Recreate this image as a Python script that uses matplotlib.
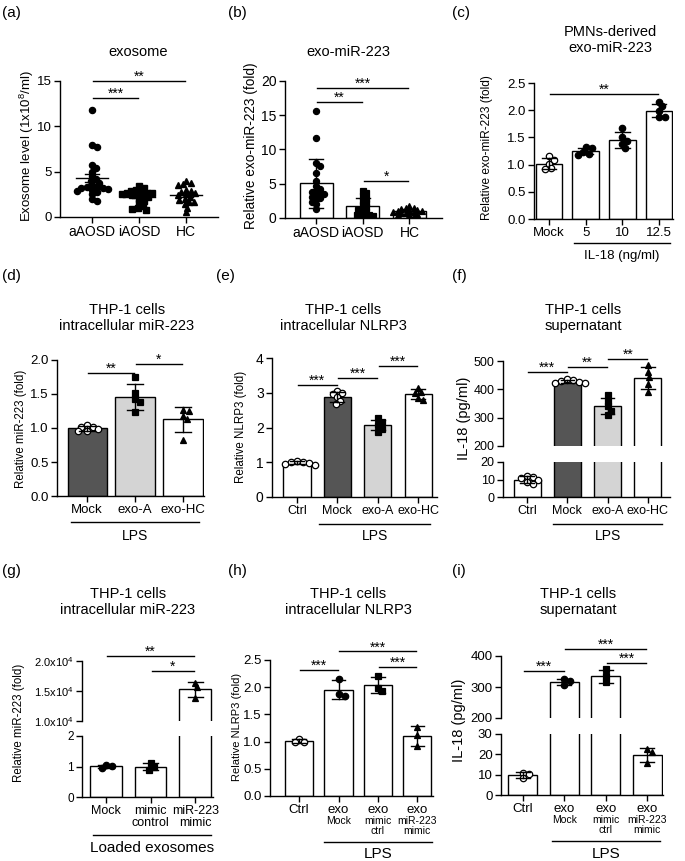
import numpy as np
import matplotlib
matplotlib.use('Agg')
import matplotlib.pyplot as plt
from matplotlib import transforms

plt.rcParams['font.family'] = ['Liberation Sans', 'DejaVu Sans']
plt.rcParams['mathtext.fontset'] = 'custom'
plt.rcParams['mathtext.rm'] = 'Liberation Sans'
plt.rcParams['mathtext.it'] = 'Liberation Sans:italic'
plt.rcParams['mathtext.bf'] = 'Liberation Sans:bold'

# ------------------------------------------------------------------ data
a_groups = ['aAOSD', 'iAOSD', 'HC']
a_aAOSD = [11.8, 7.9, 7.7, 5.7, 5.4, 5.0, 4.5, 4.2, 4.0, 3.8, 3.5, 3.3, 3.3, 3.2, 3.2, 3.1, 3.0, 2.9, 2.8, 2.5, 2.0, 1.8]
a_iAOSD = [3.4, 3.2, 3.0, 2.9, 2.8, 2.7, 2.6, 2.6, 2.5, 2.5, 2.4, 2.3, 2.2, 2.0, 1.8, 1.5, 1.2, 1.0, 0.9, 0.8]
a_HC = [4.0, 3.8, 3.6, 3.5, 3.0, 2.9, 2.8, 2.6, 2.5, 2.4, 2.2, 2.0, 1.9, 1.7, 1.6, 1.4, 1.0, 0.5]

b_groups = ['aAOSD', 'iAOSD', 'HC']
b_aAOSD = [15.6, 11.7, 8.0, 7.6, 6.6, 5.4, 4.6, 4.3, 4.0, 3.8, 3.6, 3.5, 3.3, 3.1, 2.9, 2.7, 2.4, 2.0, 1.3]
b_iAOSD = [4.0, 3.7, 3.2, 2.8, 2.5, 2.2, 1.9, 1.6, 1.3, 1.1, 0.9, 0.7, 0.5, 0.4, 0.3, 0.2]
b_HC = [1.7, 1.5, 1.4, 1.3, 1.2, 1.1, 1.0, 1.0, 0.9, 0.9, 0.8, 0.7, 0.6, 0.5, 0.4, 0.3]

c_groups = ['Mock', '5', '10', '12.5']
c_mock = [1.15, 1.08, 1.02, 0.93, 0.92]
c_5 = [1.32, 1.30, 1.24, 1.20, 1.18]
c_10 = [1.68, 1.50, 1.43, 1.38, 1.30]
c_12 = [2.15, 2.07, 1.98, 1.88, 1.87]

d_groups = ['Mock', 'exo-A', 'exo-HC']
d_mock = [1.04, 1.02, 1.02, 0.98, 0.96, 0.96]
d_exoA = [1.75, 1.52, 1.43, 1.38, 1.23]
d_exoHC = [1.27, 1.25, 1.17, 1.13, 0.82]

e_groups = ['Ctrl', 'Mock', 'exo-A', 'exo-HC']
e_ctrl = [1.05, 1.02, 1.00, 0.98, 0.95, 0.93]
e_mock = [3.05, 2.98, 2.95, 2.88, 2.75, 2.68]
e_exoA = [2.27, 2.17, 2.08, 1.97, 1.88]
e_exoHC = [3.15, 3.03, 2.98, 2.85, 2.78]

f_groups = ['Ctrl', 'Mock', 'exo-A', 'exo-HC']
f_ctrl = [12.0, 11.5, 11.0, 9.5, 8.5, 7.5]
f_mock = [436, 433, 430, 426, 424, 422]
f_exoA = [380, 358, 340, 325, 308]
f_exoHC = [485, 462, 445, 418, 390]

g_groups = ['Mock', 'mimic\ncontrol', 'miR-223\nmimic']
g_mock = [1.05, 1.02, 0.94]
g_ctrl = [1.12, 0.98, 0.90]
g_mimic = [16400, 15600, 13900]

h_groups = ['Ctrl', 'exo', 'exo', 'exo']
h_sub = ['', 'Mock', 'mimic\nctrl', 'miR-223\nmimic']
h_ctrl = [1.05, 1.00, 0.99]
h_mock = [2.15, 1.87, 1.84]
h_mctrl = [2.20, 1.98, 1.93]
h_mimic = [1.27, 1.12, 0.92]

i_groups = ['Ctrl', 'exo', 'exo', 'exo']
i_ctrl = [11.0, 10.2, 8.4]
i_mock = [325, 318, 305]
i_mctrl = [357, 334, 315]
i_mimic = [22.5, 21.0, 15.8]

DARK = '#555555'
LIGHT = '#d4d4d4'

# ------------------------------------------------------------------ figure
W, H = 685, 861
DPI = 100
fig = plt.figure(figsize=(W / DPI, H / DPI), dpi=DPI)
fig.patch.set_facecolor('white')

LW = 1.0
TITLE_FS = 10.5
STAR_FS = 10


def style(ax, fs):
    for s in ['top', 'right']:
        ax.spines[s].set_visible(False)
    for s in ['left', 'bottom']:
        ax.spines[s].set_linewidth(LW)
    ax.tick_params(direction='out', length=4, width=LW, labelsize=fs, pad=2)
    ax.patch.set_alpha(0)


def add_ax(x0, y0, x1, y1, fs=9.5):
    ax = fig.add_axes([x0 / W, 1 - y1 / H, (x1 - x0) / W, (y1 - y0) / H])
    style(ax, fs)
    return ax


def ftext(x, y, s, **kw):
    kw.setdefault('ha', 'center')
    kw.setdefault('va', 'center')
    fig.text(x / W, 1 - y / H, s, **kw)


def pick(axes, v):
    for ax in axes:
        lo, hi = ax.get_ylim()
        if lo <= v <= hi:
            return ax
    return axes[0]


def swarm_x(axes, xc, vals, diam):
    pts = []
    res = [0.0] * len(vals)
    order = np.argsort(vals)[::-1]
    cands = [0.0]
    for j in range(1, 80):
        cands += [j * diam * 0.3, -j * diam * 0.3]
    for idx in order:
        v = vals[idx]
        ax = pick(axes, v)
        px, py = ax.transData.transform((xc, v))
        ux = ax.transData.transform((xc + 1, v))[0] - px
        chosen = 0.0
        for c in cands:
            if all((c - qx) ** 2 + (py - qy) ** 2 >= diam ** 2 for qx, qy in pts):
                chosen = c
                break
        pts.append((chosen, py))
        res[idx] = xc + chosen / ux
    return res


def bar_group(axes, vals_list, colors, mspecs, width, cap, ms=4.6, diam=5.0):
    for i, vals in enumerate(vals_list):
        m = np.mean(vals)
        sd = np.std(vals, ddof=1)
        xs = swarm_x(axes, i, vals, diam)
        marker, fill = mspecs[i]
        for ax in axes:
            ax.bar(i, m, width=width, color=colors[i], edgecolor='k', linewidth=LW, zorder=2)
            ax.plot(xs, vals, ls='none', marker=marker, ms=ms, mfc=fill, mec='k', mew=0.9, zorder=3)
            ax.plot([i, i], [m - sd, m + sd], color='k', lw=LW, zorder=4)
            for y in (m - sd, m + sd):
                ax.plot([i - cap, i + cap], [y, y], color='k', lw=LW, zorder=4)


def sig(ax, x0, x1, y, stars, fs=STAR_FS):
    ax.plot([x0 + 0.02, x1 - 0.02], [y, y], color='k', lw=LW, clip_on=False, zorder=5)
    ax.text((x0 + x1) / 2, y, stars, ha='center', va='baseline', fontsize=fs, clip_on=False)


def group_line(ax, c0, c1, y_px, label, label_y_px, fs=10):
    tr = transforms.blended_transform_factory(ax.transData, fig.transFigure)
    ax.plot([c0, c1], [1 - y_px / H] * 2, transform=tr, color='k', lw=LW, clip_on=False)
    ax.text((c0 + c1) / 2, 1 - label_y_px / H, label, transform=tr, ha='center', va='center', fontsize=fs)


def top_break(ax):
    ax.spines['bottom'].set_visible(False)
    ax.tick_params(axis='x', bottom=False, labelbottom=False)


def title2(x, y, s):
    ftext(x, y, s, fontsize=TITLE_FS, linespacing=1.2)


# ------------------------------------------------------------------ (a)
axa = add_ax(60, 81, 218, 217, fs=10)
axa.set_xlim(-0.68, 2.68)
axa.set_ylim(0, 15)
axa.set_yticks([0, 5, 10, 15])
axa.tick_params(axis='y', labelsize=9.5)
axa.set_xticks(range(3))
axa.set_xticklabels(a_groups)
a_sets = [a_aAOSD, a_iAOSD, a_HC]
a_mk = ['o', 's', '^']
for i, vals in enumerate(a_sets):
    xs = swarm_x([axa], i, vals, 4.4)
    axa.plot(xs, vals, ls='none', marker=a_mk[i], ms=4.4, mfc='k', mec='k', clip_on=False, zorder=3)
    m = np.mean(vals)
    se = np.std(vals, ddof=1) / np.sqrt(len(vals))
    axa.plot([i - 0.34, i + 0.34], [m, m], color='k', lw=LW, zorder=4)
    axa.plot([i, i], [m - se, m + se], color='k', lw=LW, zorder=4)
    for y in (m - se, m + se):
        axa.plot([i - 0.15, i + 0.15], [y, y], color='k', lw=LW, zorder=4)
sig(axa, 0, 2, 15.0, '**')
sig(axa, 0, 1, 13.1, '***')
ftext(138, 52, 'exosome', fontsize=TITLE_FS)
ftext(27, 146, 'Exosome level (1x10$^{8}$/ml)', rotation=90, fontsize=9.5)

# ------------------------------------------------------------------ (b)
axb = add_ax(285, 81, 442, 218, fs=10)
axb.set_xlim(-0.67, 2.7)
axb.set_ylim(0, 20)
axb.set_yticks([0, 5, 10, 15, 20])
axb.set_xticks(range(3))
axb.set_xticklabels(b_groups)
bar_group([axb], [b_aAOSD, b_iAOSD, b_HC], ['white'] * 3,
          [('o', 'k'), ('s', 'k'), ('^', 'k')], 0.71, 0.15, ms=4.4, diam=3.8)
sig(axb, 0, 2, 19.0, '***')
sig(axb, 0, 1, 16.9, '**')
sig(axb, 1, 2, 5.4, '*')
ftext(348, 52, 'exo-miR-223', fontsize=TITLE_FS)
ftext(251, 146, 'Relative exo-miR-223 (fold)', rotation=90, fontsize=9.8)

# ------------------------------------------------------------------ (c)
axc = add_ax(534, 83, 673, 219, fs=9.5)
axc.set_xlim(-0.41, 3.38)
axc.set_ylim(0, 2.5)
c_ticks = [0, 0.5, 1.0, 1.5, 2.0, 2.5]
axc.set_yticks(c_ticks)
axc.set_yticklabels(['%.1f' % t for t in c_ticks])
axc.set_xticks(range(4))
axc.set_xticklabels(c_groups)
bar_group([axc], [c_mock, c_5, c_10, c_12], ['white'] * 4,
          [('o', 'white'), ('o', 'k'), ('o', 'k'), ('o', 'k')], 0.73, 0.2)
sig(axc, 0, 3, 2.3, '**')
group_line(axc, 1 - 0.33, 3 + 0.3, 243, 'IL-18 (ng/ml)', 256, fs=9.5)
title2(610, 40, 'PMNs-derived\nexo-miR-223')
ftext(487, 148, 'Relative exo-miR-223 (fold)', rotation=90, fontsize=8.6)

# ------------------------------------------------------------------ (d)
axd = add_ax(57, 360, 204, 496, fs=9.5)
axd.set_xlim(-0.63, 2.44)
axd.set_ylim(0, 2.0)
d_ticks = [0, 0.5, 1.0, 1.5, 2.0]
axd.set_yticks(d_ticks)
axd.set_yticklabels(['%.1f' % t for t in d_ticks])
axd.set_xticks(range(3))
axd.set_xticklabels(d_groups)
bar_group([axd], [d_mock, d_exoA, d_exoHC], [DARK, LIGHT, 'white'],
          [('o', 'white'), ('s', 'k'), ('^', 'k')], 0.82, 0.17)
sig(axd, 0, 1, 1.81, '**')
sig(axd, 1, 2, 1.94, '*')
group_line(axd, 0 - 0.33, 2 + 0.33, 522, 'LPS', 536)
title2(127, 318, 'THP-1 cells\nintracellular miR-223')
ftext(21, 429, 'Relative miR-223 (fold)', rotation=90, fontsize=8.3)

# ------------------------------------------------------------------ (e)
axe = add_ax(272, 358, 437, 497, fs=9)
axe.set_xlim(-0.62, 3.47)
axe.set_ylim(0, 4)
axe.set_yticks([0, 1, 2, 3, 4])
axe.tick_params(axis='y', labelsize=10)
axe.set_xticks(range(4))
axe.set_xticklabels(e_groups)
bar_group([axe], [e_ctrl, e_mock, e_exoA, e_exoHC], ['white', DARK, LIGHT, 'white'],
          [('o', 'white'), ('o', 'white'), ('s', 'k'), ('^', 'k')], 0.67, 0.17)
sig(axe, 0, 1, 3.22, '***')
sig(axe, 1, 2, 3.42, '***')
sig(axe, 2, 3, 3.77, '***')
group_line(axe, 1 - 0.45, 3 + 0.3, 524, 'LPS', 536)
title2(343, 318, 'THP-1 cells\nintracellular NLRP3')
ftext(241, 427, 'Relative NLRP3 (fold)', rotation=90, fontsize=8.3)

# ------------------------------------------------------------------ (f)
axf_t = add_ax(503, 361, 670, 446, fs=9)
axf_b = add_ax(503, 462, 670, 497, fs=9)
for ax in (axf_t, axf_b):
    ax.set_xlim(-0.6, 3.55)
axf_t.set_ylim(200, 500)
axf_t.set_yticks([200, 300, 400, 500])
axf_b.set_ylim(0, 20)
axf_b.set_yticks([0, 10, 20])
top_break(axf_t)
axf_b.set_xticks(range(4))
axf_b.set_xticklabels(f_groups)
bar_group([axf_t, axf_b], [f_ctrl, f_mock, f_exoA, f_exoHC], ['white', DARK, LIGHT, 'white'],
          [('o', 'white'), ('o', 'white'), ('s', 'k'), ('^', 'k')], 0.67, 0.17)
sig(axf_t, 0, 1, 462, '***')
sig(axf_t, 1, 2, 480, '**')
sig(axf_t, 2, 3, 507, '**')
group_line(axf_b, 1 - 0.35, 3 + 0.35, 524, 'LPS', 536)
title2(583, 318, 'THP-1 cells\nsupernatant')
ftext(464, 418, 'IL-18 (pg/ml)', rotation=90, fontsize=10.5)

# ------------------------------------------------------------------ (g)
axg_t = add_ax(82, 661, 213, 721, fs=8)
axg_b = add_ax(82, 736, 213, 797, fs=8.5)
for ax in (axg_t, axg_b):
    ax.set_xlim(-0.54, 2.4)
axg_t.set_ylim(10000, 20000)
axg_t.set_yticks([10000, 15000, 20000])
axg_t.set_yticklabels(['1.0x10$^{4}$', '1.5x10$^{4}$', '2.0x10$^{4}$'])
axg_b.set_ylim(0, 2)
axg_b.set_yticks([0, 1, 2])
top_break(axg_t)
axg_b.set_xticks(range(3))
axg_b.set_xticklabels(g_groups, fontsize=9, linespacing=1.0)
bar_group([axg_t, axg_b], [g_mock, g_ctrl, g_mimic], ['white'] * 3,
          [('o', 'k'), ('s', 'k'), ('^', 'k')], 0.71, 0.17)
sig(axg_t, 0, 2, 20800, '**')
sig(axg_t, 1, 2, 18400, '*')
group_line(axg_b, 0 - 0.3, 2 + 0.35, 835, 'Loaded exosomes', 848, fs=11)
title2(128, 602, 'THP-1 cells\nintracellular miR-223')
ftext(19, 723, 'Relative miR-223 (fold)', rotation=90, fontsize=8.3)

# ------------------------------------------------------------------ (h)
axh = add_ax(270, 660, 433, 796, fs=9.5)
axh.set_xlim(-0.74, 3.4)
axh.set_ylim(0, 2.5)
h_ticks = [0, 0.5, 1.0, 1.5, 2.0, 2.5]
axh.set_yticks(h_ticks)
axh.set_yticklabels(['%.1f' % t for t in h_ticks])
axh.set_xticks(range(4))
axh.set_xticklabels(h_groups)
bar_group([axh], [h_ctrl, h_mock, h_mctrl, h_mimic], ['white'] * 4,
          [('o', 'white'), ('o', 'k'), ('s', 'k'), ('^', 'k')], 0.72, 0.17)
sig(axh, 0, 1, 2.32, '***')
sig(axh, 1, 3, 2.66, '***')
sig(axh, 2, 3, 2.37, '***')
for k, s in enumerate(h_sub):
    if s:
        axh.annotate(s, xy=(k, 0), xycoords=('data', 'axes fraction'), xytext=(0, -14.5),
                     textcoords='offset points', ha='center', va='top', fontsize=7.5, linespacing=0.95)
group_line(axh, 1 - 0.38, 3 + 0.38, 842, 'LPS', 854, fs=11)
title2(348, 602, 'THP-1 cells\nintracellular NLRP3')
ftext(237, 727, 'Relative NLRP3 (fold)', rotation=90, fontsize=8)

# ------------------------------------------------------------------ (i)
axi_t = add_ax(501, 656, 663, 718, fs=9.5)
axi_b = add_ax(501, 734, 663, 795, fs=9.5)
for ax in (axi_t, axi_b):
    ax.set_xlim(-0.53, 3.38)
axi_t.set_ylim(200, 400)
axi_t.set_yticks([200, 300, 400])
axi_b.set_ylim(0, 30)
axi_b.set_yticks([0, 10, 20, 30])
top_break(axi_t)
axi_b.set_xticks(range(4))
axi_b.set_xticklabels(i_groups, fontsize=9.5)
bar_group([axi_t, axi_b], [i_ctrl, i_mock, i_mctrl, i_mimic], ['white'] * 4,
          [('o', 'white'), ('o', 'k'), ('s', 'k'), ('^', 'k')], 0.7, 0.17)
sig(axi_t, 0, 1, 353, '***')
sig(axi_t, 1, 3, 422, '***')
sig(axi_t, 2, 3, 378, '***')
for k, s in enumerate(h_sub):
    if s:
        axi_b.annotate(s, xy=(k, 0), xycoords=('data', 'axes fraction'), xytext=(0, -14.5),
                       textcoords='offset points', ha='center', va='top', fontsize=7.5, linespacing=0.95)
group_line(axi_b, 1 - 0.31, 3 + 0.31, 841, 'LPS', 854, fs=11)
title2(578, 602, 'THP-1 cells\nsupernatant')
ftext(459, 720, 'IL-18 (pg/ml)', rotation=90, fontsize=10.5)

# ------------------------------------------------------------------ panel labels
for lab, x, y in [('(a)', 2, 13), ('(b)', 228, 13), ('(c)', 452, 13),
                  ('(d)', 2, 276), ('(e)', 216, 276), ('(f)', 452, 276),
                  ('(g)', 2, 571), ('(h)', 228, 571), ('(i)', 452, 571)]:
    ftext(x, y, lab, ha='left', fontsize=11)

fig.savefig('out.png', dpi=DPI, facecolor='white')
